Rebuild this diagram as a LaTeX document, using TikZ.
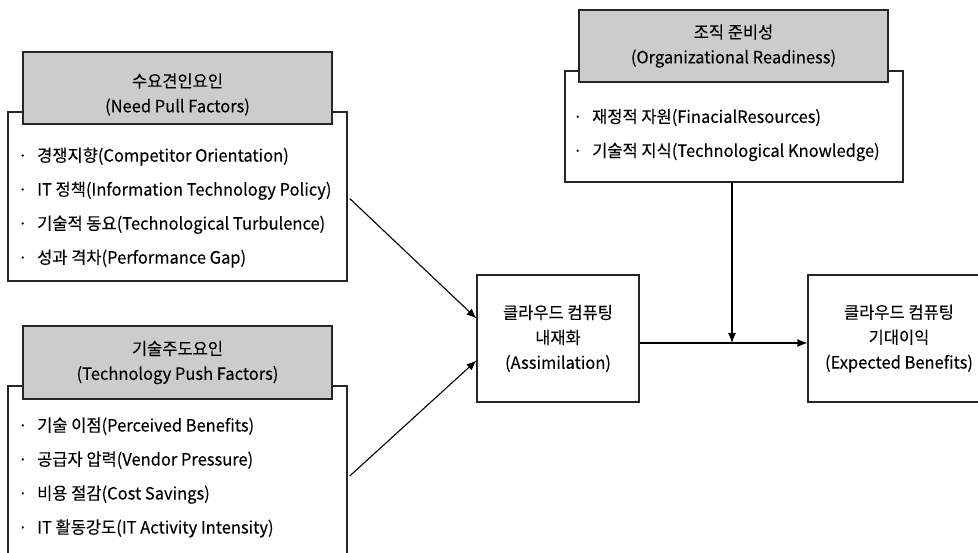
\documentclass[tikz,border=0pt]{standalone}
\usepackage{fontspec}
\setmainfont[FakeBold=0.1, FakeStretch=0.97]{Noto Sans CJK KR}
\usetikzlibrary{arrows.meta}

\newcommand{\itemline}[1]{\makebox[19pt][l]{·}#1}

\tikzset{
    outerbox/.style={draw=black!85, line width=1.1pt, fill=white},
    headbox/.style={draw=black!85, line width=1.1pt, fill=gray!40, align=center,
        minimum width=309pt, minimum height=72pt},
    itemlist/.style={align=left, inner sep=0pt, anchor=west,
        font=\fontsize{17}{34}\selectfont},
    arr/.style={-{Latex[length=10pt,width=8pt]}, line width=1.1pt}
}

\begin{document}
\begin{tikzpicture}[x=1pt, y=-1pt, font=\fontsize{17}{25}\selectfont]
        \useasboundingbox (0,0) rectangle (978,553);

        \node[outerbox, minimum width=339pt, minimum height=169pt] (pullbox) at (177.5,196.5) {};
        \node[headbox, text height=52pt] (pullhead) at (177.5,88) {수요견인요인\\(Need Pull Factors)};
        \node[itemlist] (pulllist) at (18,207.5) {\itemline{경쟁지향(Competitor Orientation)}\\
            \itemline{IT 정책(Information Technology Policy)}\\
            \itemline{기술적 동요(Technological Turbulence)}\\
            \itemline{성과 격차(Performance Gap)}};

        \node[outerbox, minimum width=339pt, minimum height=184pt] (pushbox) at (177.5,478) {};
        \node[headbox, minimum height=73pt] (pushhead) at (177.5,362.5) {기술주도요인\\(Technology Push Factors)};
        \node[itemlist] (pushlist) at (18,477.5) {\itemline{기술 이점(Perceived Benefits)}\\
            \itemline{공급자 압력(Vendor Pressure)}\\
            \itemline{비용 절감(Cost Savings)}\\
            \itemline{IT 활동강도(IT Activity Intensity)}};

        \node[outerbox, minimum width=338pt, minimum height=111pt] (orgbox) at (734,126.5) {};
        \node[headbox] (orghead) at (733.5,46) {조직 준비성\\(Organizational Readiness)};
        \node[itemlist] (orglist) at (573,135) {\itemline{재정적 자원(FinacialResources)}\\
            \itemline{기술적 지식(Technological Knowledge)}};

        \node[outerbox, align=center, minimum width=162pt, minimum height=127pt] (assim) at (558,338.5) {클라우드 컴퓨팅\\내재화\\(Assimilation)};
        \node[outerbox, align=center, minimum width=182pt, minimum height=127pt] (benefit) at (899,338.5) {클라우드 컴퓨팅\\기대이익\\(Expected Benefits)};

        \coordinate (join) at (732,343);

        \draw[arr, shorten <=3pt] (pullbox.east) -- ([yshift=20pt]assim.west);
        \draw[arr, shorten <=3pt] (pushbox.east) -- ([yshift=-22pt]assim.west);
        \draw[arr] ([yshift=-4.5pt]assim.east) -- ([yshift=-4.5pt]benefit.west);
        \draw[arr] (orgbox.south -| join) -- (join);
    \end{tikzpicture}
\end{document}
